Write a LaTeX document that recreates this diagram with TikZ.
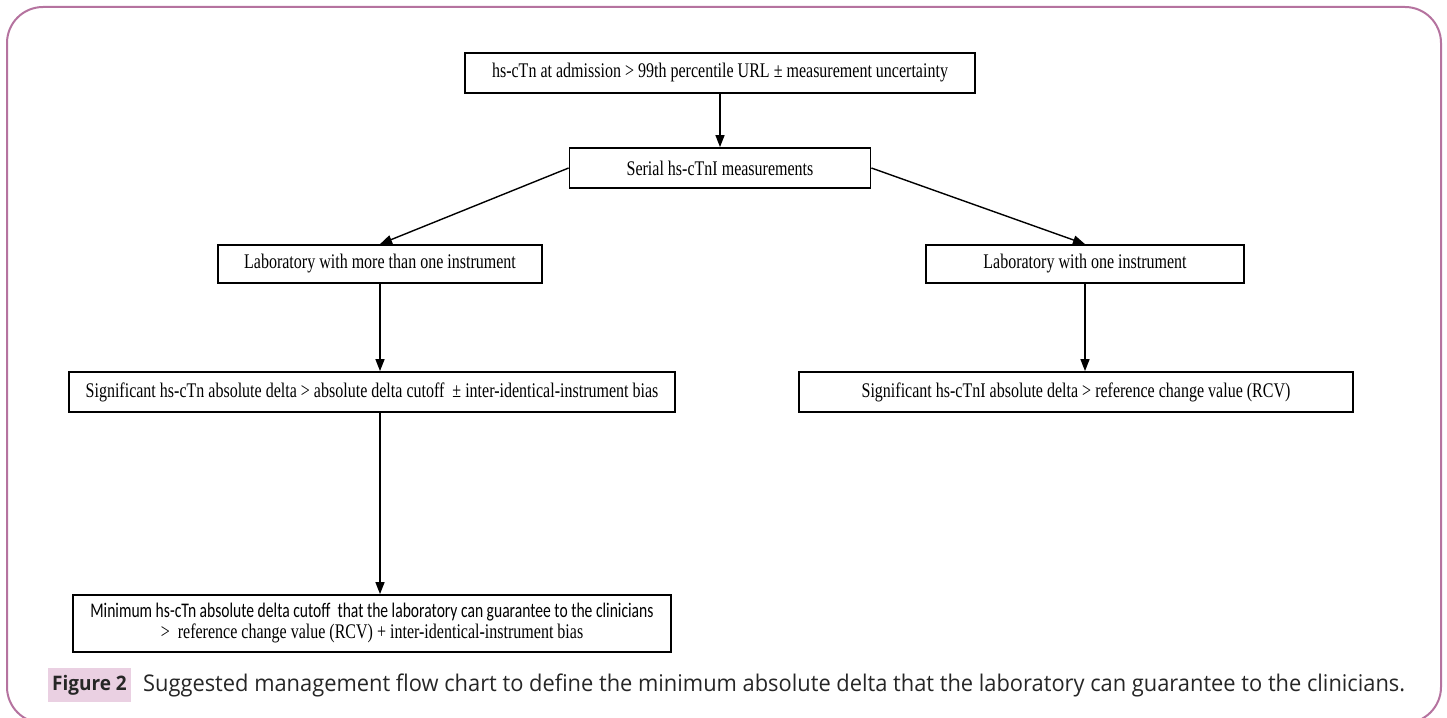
\documentclass[tikz,border=0pt]{standalone}
\usepackage{fontspec}
\setmainfont{Liberation Serif}
\newfontfamily\capfont{Open Sans}
\newfontfamily\calfont{Carlito}
\usetikzlibrary{arrows.meta}
\definecolor{framec}{HTML}{B5739F}
\definecolor{capbg}{HTML}{EAD0E2}
\newcommand{\tx}[1]{\scalebox{0.77}[1]{#1}}
\newcommand{\ctx}[1]{\scalebox{0.95}[1]{#1}}
\tikzset{
  fbox/.style={draw=black, line width=1.8pt, inner sep=0pt, align=center,
    font=\fontsize{20.8}{23}\selectfont},
  arr/.style={line width=1.4pt, -{Triangle[length=12pt,width=9pt]}},
}
\begin{document}
\begin{tikzpicture}[x=1pt,y=-1pt]
\useasboundingbox (0,0) rectangle (1447,717);
\draw[framec, line width=2pt, rounded corners=36pt] (7,7) rectangle (1441,723);

\node[fbox, minimum width=510pt, minimum height=40pt] (b1) at (720,73)
  {\tx{hs-cTn at admission > 99th percentile URL ± measurement uncertainty}};
\node[fbox, minimum width=301pt, minimum height=40pt] (b2) at (720,168)
  {\tx{Serial hs-cTnI measurements}};
\node[fbox, minimum width=324pt, minimum height=38pt] (b3) at (380,264)
  {\tx{Laboratory with more than one instrument}};
\node[fbox, minimum width=318pt, minimum height=38pt] (b4) at (1085,264)
  {\tx{Laboratory with one instrument}};
\node[fbox, minimum width=606pt, minimum height=40pt] (b5) at (372,392)
  {\tx{Significant hs-cTn absolute delta > absolute delta cutoff \ ± inter-identical-instrument bias}};
\node[fbox, minimum width=554pt, minimum height=40pt] (b6) at (1076,392)
  {\tx{Significant hs-cTnI absolute delta > reference change value (RCV)}};
\node[fbox, minimum width=598pt, minimum height=57pt] (b7) at (372,623.5)
  {\scalebox{0.75}[1]{\calfont Minimum hs-cTn absolute delta cutoff \ that the laboratory can guarantee to the clinicians}\\[-2pt]
   \tx{> \ reference change value (RCV) + inter-identical-instrument bias}};

\draw[arr] (b1.south) -- (b2.north);
\draw[arr] (b2.west) -- (b3.north);
\draw[arr] (b2.east) -- (b4.north);
\draw[arr] (b3.south) -- (b3.south |- b5.north);
\draw[arr] (b4.south) -- (b4.south |- b6.north);
\draw[arr] (b3.south |- b5.south) -- (b3.south |- b7.north);

\node[fill=capbg, minimum width=83pt, minimum height=34pt, inner sep=0pt,
  font=\capfont\bfseries\fontsize{20}{24}\selectfont, text=black!85] (fig) at (89.5,685) {\ctx{Figure 2}};
\node[anchor=west, inner sep=0pt, font=\capfont\fontsize{23}{26}\selectfont, text=black!85] (cap) at (143,685)
  {\ctx{Suggested management flow chart to define the minimum absolute delta that the laboratory can guarantee to the clinicians.}};
\end{tikzpicture}
\end{document}
